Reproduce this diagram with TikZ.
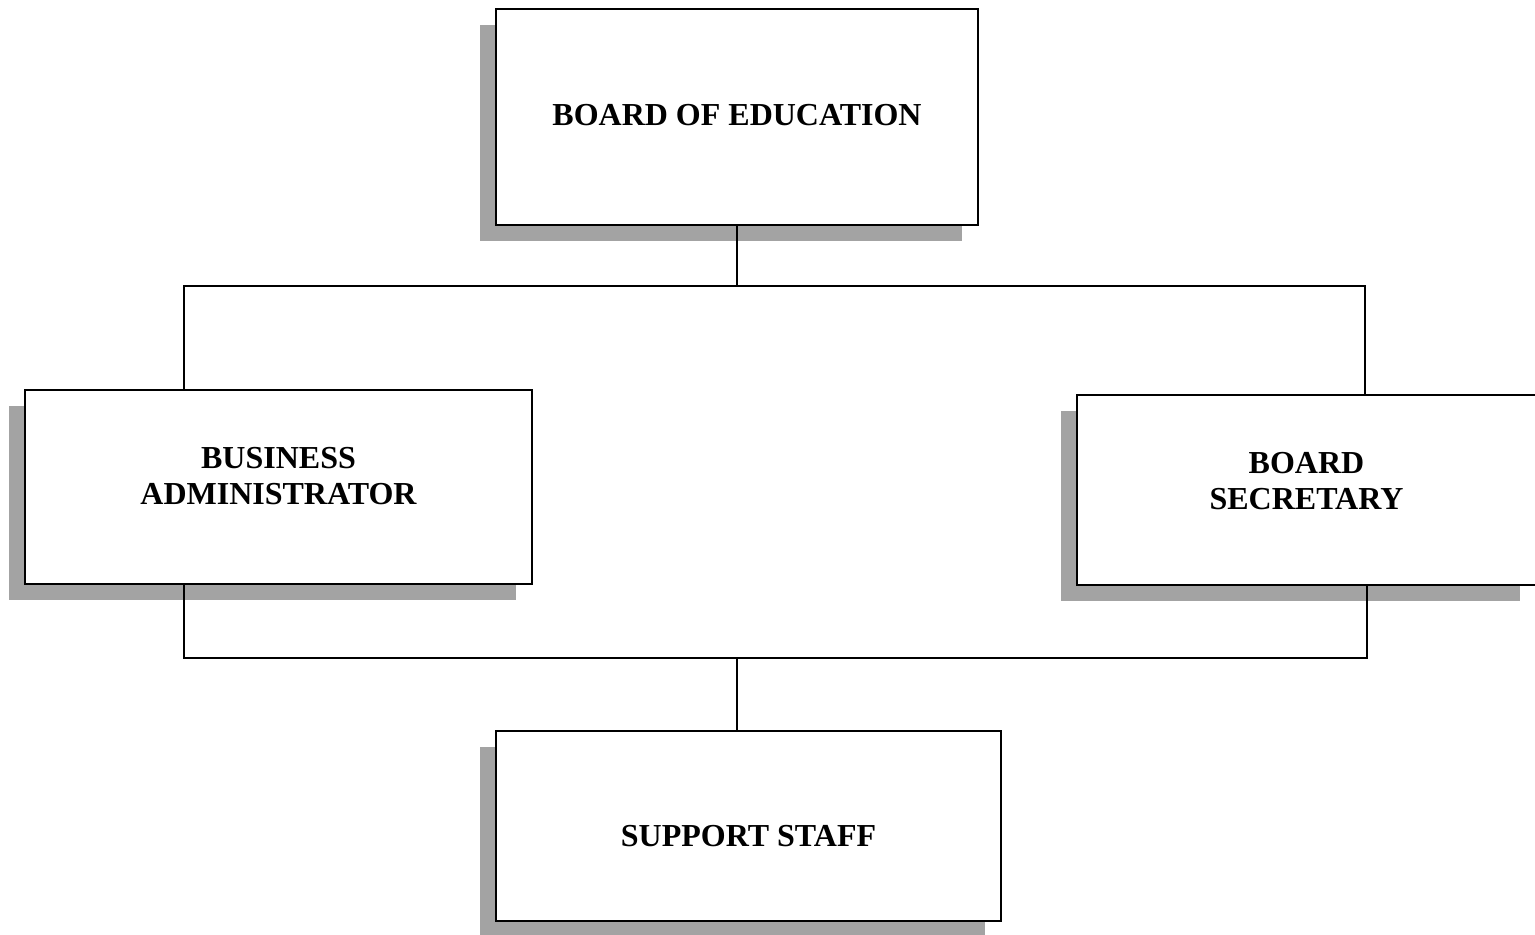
\documentclass[tikz,border=0pt]{standalone}
\usepackage{fontspec}
\setmainfont{Liberation Serif}
\usetikzlibrary{shadows}
\begin{document}
\begin{tikzpicture}[x=0.5pt, y=-0.5pt,
    orgbox/.style={draw, line width=1.2pt, fill=white,
      drop shadow={shadow xshift=-8pt, shadow yshift=-8pt, fill=black!36, opacity=1}},
    orgtext/.style={align=center, font=\bfseries\fontsize{16}{18}\selectfont},
    link/.style={line width=0.8pt}]
  % page frame, 1535 x 934 px
  \useasboundingbox (0,0) rectangle (1535,934);

  % top box "board of education"
  \node[orgbox, minimum width=241pt, minimum height=108pt] (boe) at (737,117) {};
  \node[orgtext] (boetext) at ([yshift=1pt]boe.center) {BOARD OF EDUCATION};
  % two boxes in the middle row
  \node[orgbox, minimum width=253.5pt, minimum height=97pt] (ba) at (278.5,487) {};
  \node[orgtext] (batext) at ([yshift=5.5pt]ba.center) {BUSINESS\\ADMINISTRATOR};
  \node[orgbox, minimum width=229.5pt, minimum height=95pt] (bs) at (1306.5,490) {};
  \node[orgtext] (bstext) at ([yshift=4.5pt]bs.center) {BOARD\\SECRETARY};
  % bottom box
  \node[orgbox, minimum width=252.5pt, minimum height=95pt] (ss) at (748.5,826) {};
  \node[orgtext] (sstext) at ([yshift=-5pt]ss.center) {SUPPORT STAFF};

  % bus under the top box
  \coordinate (tl) at (184,286);
  \coordinate (tr) at (1365,286);
  \draw[link] (boe.south) -- (boe.south |- tl);
  \draw[link] (ba.north -| tl) -- (tl) -- (tr) -- (bs.north -| tr);

  % bus above the bottom box
  \coordinate (bl) at (184,658);
  \coordinate (br) at (1367,658);
  \coordinate (bm) at (737,658);
  \draw[link] (ba.south -| bl) -- (bl) -- (br) -- (bs.south -| br);
  \draw[link] (bm) -- (ss.north -| bm);
\end{tikzpicture}
\end{document}
